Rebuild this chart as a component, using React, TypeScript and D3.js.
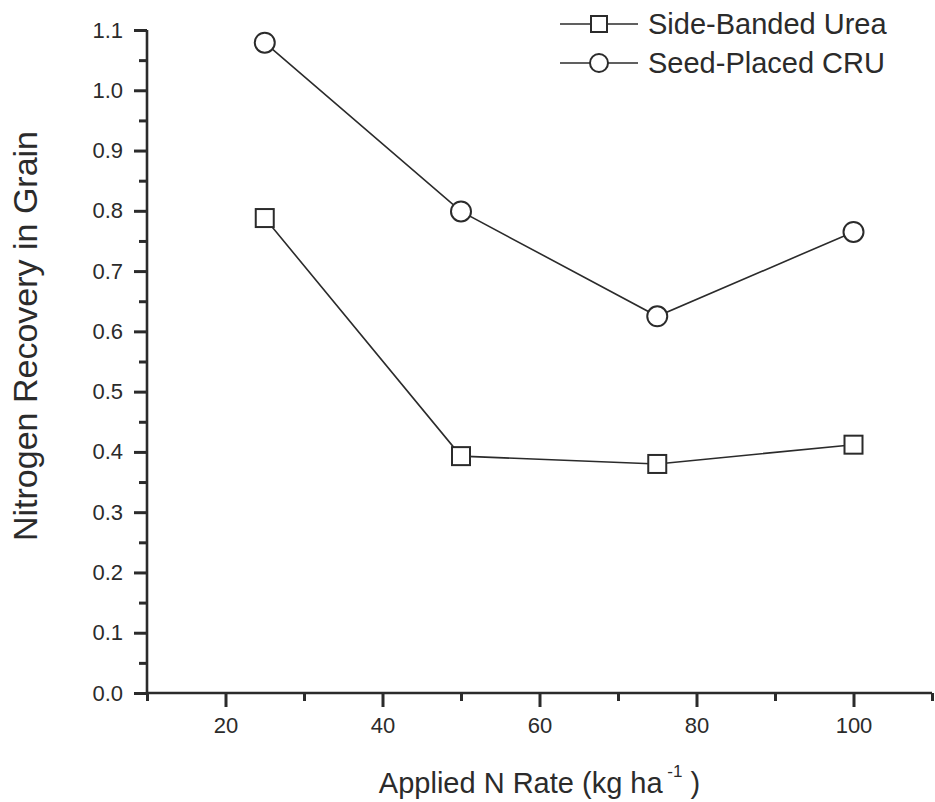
import { useEffect, useRef } from "react";
import * as d3 from "d3";

// data
const nRates = [25, 50, 75, 100];
const sideBandedUrea = [0.788, 0.393, 0.38, 0.412];
const seedPlacedCRU = [1.079, 0.799, 0.625, 0.765];
const seriesNames = ["Side-Banded Urea", "Seed-Placed CRU"];
const xMajorTicks = [20, 40, 60, 80, 100];
const xMinorTicks = [10, 30, 50, 70, 90, 110];
const yMajorTicks = [0, 0.1, 0.2, 0.3, 0.4, 0.5, 0.6, 0.7, 0.8, 0.9, 1.0, 1.1];
const yMinorTicks = [0.05, 0.15, 0.25, 0.35, 0.45, 0.55, 0.65, 0.75, 0.85, 0.95, 1.05];

const INK = "#2b2b2b";
const FONT = "Arial, 'Liberation Sans', Helvetica, sans-serif";

const App = () => {
  const svgRef = useRef<SVGSVGElement | null>(null);

  useEffect(() => {
    const width = 935;
    const height = 802;
    const left = 147, right = 932, top = 30, bottom = 693;

    const svg = d3.select(svgRef.current).attr("width", width).attr("height", height);
    svg.selectAll("*").remove();

    const x = d3.scaleLinear().domain([10, 110]).range([left, right]);
    const y = d3.scaleLinear().domain([0, 1.1]).range([bottom, top]);

    ///////////////////////Axes//////////////////////////////
    const xAxis = svg
      .append("g")
      .attr("transform", `translate(0,${bottom})`)
      .call(d3.axisBottom(x).tickValues(xMajorTicks).tickSize(14).tickPadding(10).tickFormat(d3.format("d")));
    xAxis
      .append("g")
      .call(d3.axisBottom(x).tickValues(xMinorTicks).tickSize(8).tickFormat(() => ""))
      .select(".domain")
      .remove();

    const yAxis = svg
      .append("g")
      .attr("transform", `translate(${left},0)`)
      .call(d3.axisLeft(y).tickValues(yMajorTicks).tickSize(13).tickPadding(11).tickFormat(d3.format(".1f")));
    yAxis
      .append("g")
      .call(d3.axisLeft(y).tickValues(yMinorTicks).tickSize(8).tickFormat(() => ""))
      .select(".domain")
      .remove();

    [xAxis, yAxis].forEach((g) => {
      g.selectAll(".domain").attr("stroke", INK).attr("stroke-width", 2.6);
      g.selectAll(".tick line").attr("stroke", INK).attr("stroke-width", 3);
      g.selectAll(".tick text")
        .attr("fill", INK)
        .style("font-family", FONT)
        .style("font-size", "22px");
    });
    // domain paths draw outer ticks, flatten them
    xAxis.select(".domain").attr("d", `M${left},0H${right}`);
    yAxis.select(".domain").attr("d", `M0,${bottom}V${top}`);

    ///////////////////////Titles//////////////////////////////
    const xTitle = svg
      .append("text")
      .attr("x", (left + right) / 2)
      .attr("y", 793)
      .attr("text-anchor", "middle")
      .attr("fill", INK)
      .style("font-family", FONT)
      .style("font-size", "29px");
    xTitle.append("tspan").text("Applied N Rate (kg ha");
    xTitle.append("tspan").attr("dy", -16).style("font-size", "17px").text(" -1");
    xTitle.append("tspan").attr("dy", 16).text(" )");

    svg
      .append("text")
      .attr("transform", `translate(37,336) rotate(-90)`)
      .attr("text-anchor", "middle")
      .attr("fill", INK)
      .style("font-family", FONT)
      .style("font-size", "34px")
      .text("Nitrogen Recovery in Grain");

    ///////////////////////Series//////////////////////////////
    const line = d3
      .line<number>()
      .x((d, i) => x(nRates[i]))
      .y((d) => y(d));

    const series = [sideBandedUrea, seedPlacedCRU];
    series.forEach((vals) => {
      svg
        .append("path")
        .datum(vals)
        .attr("d", line)
        .attr("fill", "none")
        .attr("stroke", INK)
        .attr("stroke-width", 1.6);
    });

    svg
      .selectAll(".sq")
      .data(sideBandedUrea)
      .enter()
      .append("rect")
      .attr("x", (d, i) => x(nRates[i]) - 9)
      .attr("y", (d) => y(d) - 9)
      .attr("width", 18)
      .attr("height", 18)
      .attr("fill", "white")
      .attr("stroke", INK)
      .attr("stroke-width", 2);

    svg
      .selectAll(".ci")
      .data(seedPlacedCRU)
      .enter()
      .append("circle")
      .attr("cx", (d, i) => x(nRates[i]))
      .attr("cy", (d) => y(d))
      .attr("r", 10)
      .attr("fill", "white")
      .attr("stroke", INK)
      .attr("stroke-width", 2);

    ///////////////////////Legend//////////////////////////////
    const legend = svg.append("g").attr("transform", "translate(560,24)");
    seriesNames.forEach((name, i) => {
      const row = legend.append("g").attr("transform", `translate(0,${i * 39})`);
      row.append("line").attr("x1", 0).attr("x2", 78).attr("stroke", INK).attr("stroke-width", 1.6);
      if (i === 0) {
        row.append("rect").attr("x", 31).attr("y", -8).attr("width", 16).attr("height", 16)
          .attr("fill", "white").attr("stroke", INK).attr("stroke-width", 2);
      } else {
        row.append("circle").attr("cx", 39).attr("r", 9)
          .attr("fill", "white").attr("stroke", INK).attr("stroke-width", 2);
      }
      row
        .append("text")
        .attr("x", 88)
        .attr("y", 10)
        .attr("fill", INK)
        .style("font-family", FONT)
        .style("font-size", "29px")
        .text(name);
    });
  }, []);

  return (
    <div>
      <svg ref={svgRef} style={{ position: "absolute", left: 0, top: 0, background: "white" }}></svg>
    </div>
  );
};

export default App;
